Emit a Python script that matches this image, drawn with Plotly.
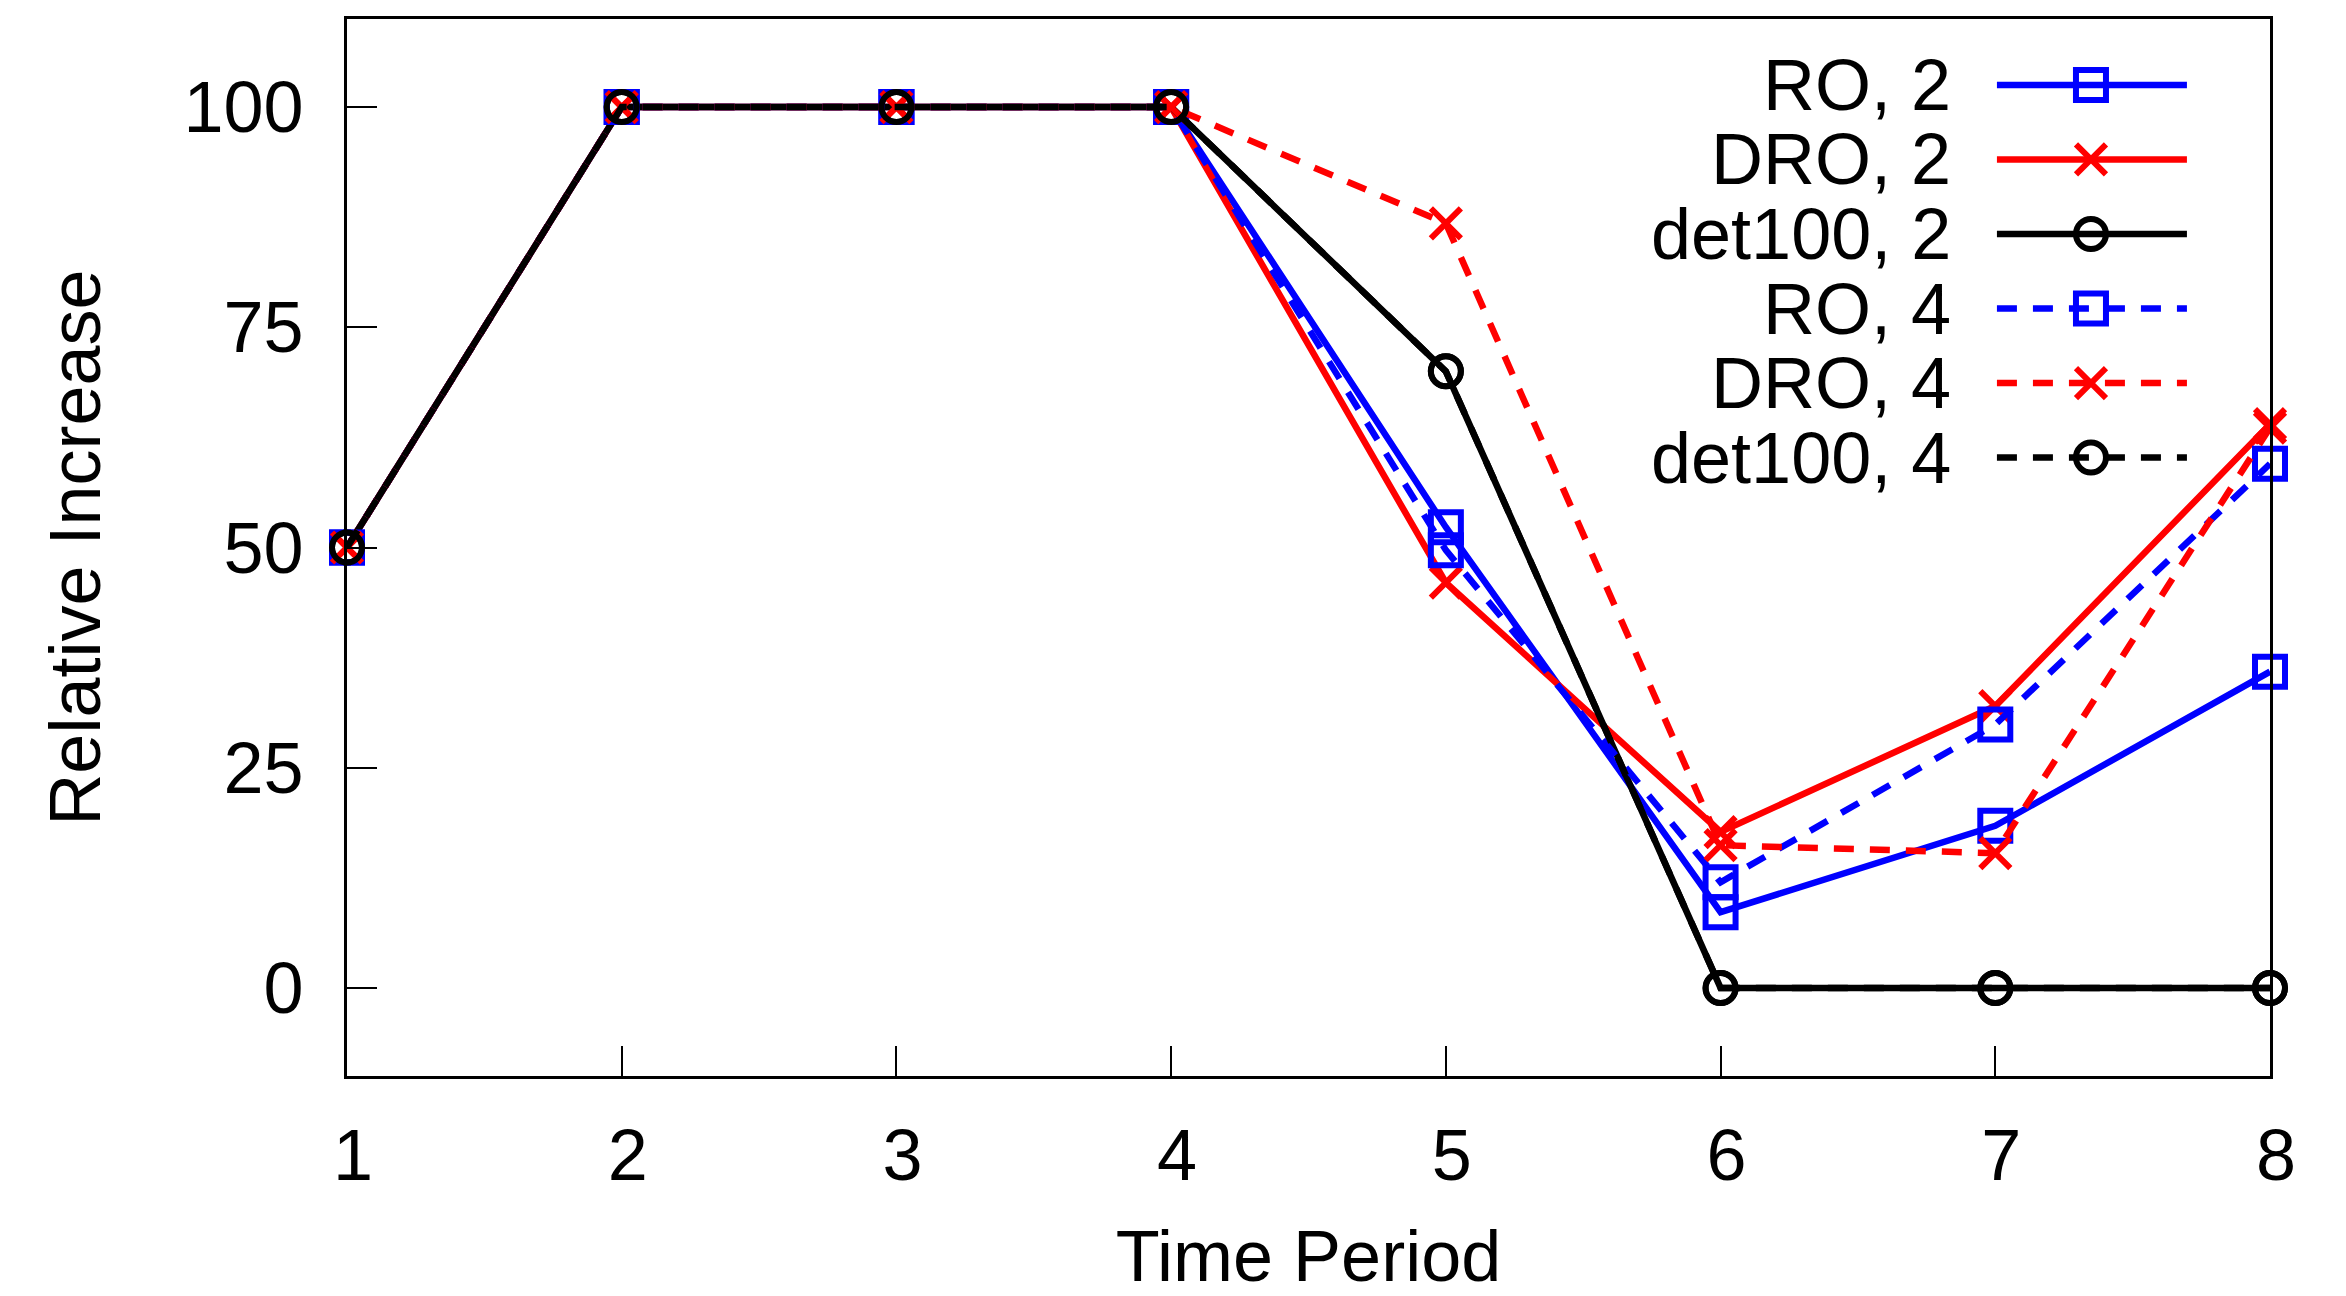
import plotly.graph_objects as go

# ---------------- data ----------------
periods = [1, 2, 3, 4, 5, 6, 7, 8]
series_names = ["RO, 2", "DRO, 2", "det100, 2", "RO, 4", "DRO, 4", "det100, 4"]
ro_2 = [50, 100, 100, 100, 52.3, 8.6, 18.4, 35.9]
dro_2 = [50, 100, 100, 100, 46.0, 17.7, 32.0, 64.0]
det100_2 = [50, 100, 100, 100, 70.0, 0, 0, 0]
ro_4 = [50, 100, 100, 100, 49.7, 12.0, 29.9, 59.5]
dro_4 = [50, 100, 100, 100, 86.8, 16.2, 15.3, 63.6]
det100_4 = [50, 100, 100, 100, 70.0, 0, 0, 0]
y_ticks = [0, 25, 50, 75, 100]

values = [ro_2, dro_2, det100_2, ro_4, dro_4, det100_4]

# ---------------- styles ----------------
FONT = "Liberation Sans, Arial, Helvetica, sans-serif"
FS = 72
LW = 6.5
DASH = "20px,16px"
MS = 30
MLW = 6
styles = [
    dict(color="#0000FF", symbol="square-open", dash="solid"),
    dict(color="#FF0000", symbol="x-thin", dash="solid"),
    dict(color="#000000", symbol="circle-open", dash="solid"),
    dict(color="#0000FF", symbol="square-open", dash=DASH),
    dict(color="#FF0000", symbol="x-thin", dash=DASH),
    dict(color="#000000", symbol="circle-open", dash=DASH),
]

fig = go.Figure()

for name, vals, st in zip(series_names, values, styles):
    fig.add_trace(go.Scatter(
        x=periods, y=vals, name=name, mode="lines+markers",
        line=dict(color=st["color"], width=LW, dash=st["dash"]),
        marker=dict(symbol=st["symbol"], size=MS, color=st["color"],
                    line=dict(color=st["color"], width=MLW)),
        cliponaxis=False, showlegend=False,
    ))

# ---------------- custom gnuplot-style legend (text left, sample right) ----------------
leg_top = 0.9376
leg_step = 0.0705
leg_x0, leg_xm, leg_x1 = 0.858, 0.9069, 0.9568
leg_text_x = 0.8346
annotations = []
for i, (name, st) in enumerate(zip(series_names, styles)):
    yy = leg_top - i * leg_step
    fig.add_trace(go.Scatter(
        x=[leg_x0, leg_x1], y=[yy, yy], mode="lines", xaxis="x2", yaxis="y2",
        line=dict(color=st["color"], width=LW, dash=st["dash"]),
        showlegend=False, hoverinfo="skip", cliponaxis=False,
    ))
    fig.add_trace(go.Scatter(
        x=[leg_xm], y=[yy], mode="markers", xaxis="x2", yaxis="y2",
        marker=dict(symbol=st["symbol"], size=MS, color=st["color"],
                    line=dict(color=st["color"], width=MLW)),
        showlegend=False, hoverinfo="skip", cliponaxis=False,
    ))
    annotations.append(dict(
        x=leg_text_x, y=yy, xref="paper", yref="paper", text=name,
        showarrow=False, xanchor="right", yanchor="middle",
        height=70, valign="middle", borderpad=0,
        font=dict(family=FONT, size=FS, color="black"),
    ))

fig.update_layout(
    width=2346, height=1296,
    margin=dict(l=347, r=76, t=19, b=220),
    paper_bgcolor="white", plot_bgcolor="white",
    font=dict(family=FONT, size=FS, color="black"),
    xaxis=dict(
        range=[1, 8], tickvals=periods, ticktext=[str(p) for p in periods],
        ticks="inside", ticklen=30, tickwidth=2, tickcolor="black",
        showline=True, linewidth=3, linecolor="black", mirror=True,
        showgrid=False, zeroline=False, automargin=False,
        ticklabelstandoff=15, ticklabelshift=6,
        title=dict(text="Time Period", font=dict(family=FONT, size=FS), standoff=58),
        tickfont=dict(family=FONT, size=FS),
    ),
    yaxis=dict(
        range=[-10, 110], tickvals=y_ticks,
        ticks="inside", ticklen=30, tickwidth=2, tickcolor="black",
        showline=True, linewidth=3, linecolor="black", mirror=True,
        showgrid=False, zeroline=False, automargin=False,
        ticklabelstandoff=26,
        title=dict(text="Relative Increase", font=dict(family=FONT, size=FS), standoff=60),
        tickfont=dict(family=FONT, size=FS),
    ),
    xaxis2=dict(overlaying="x", range=[0, 1], visible=False, fixedrange=True),
    yaxis2=dict(overlaying="y", range=[0, 1], visible=False, fixedrange=True),
    annotations=annotations,
)

fig.write_html("out.html")
